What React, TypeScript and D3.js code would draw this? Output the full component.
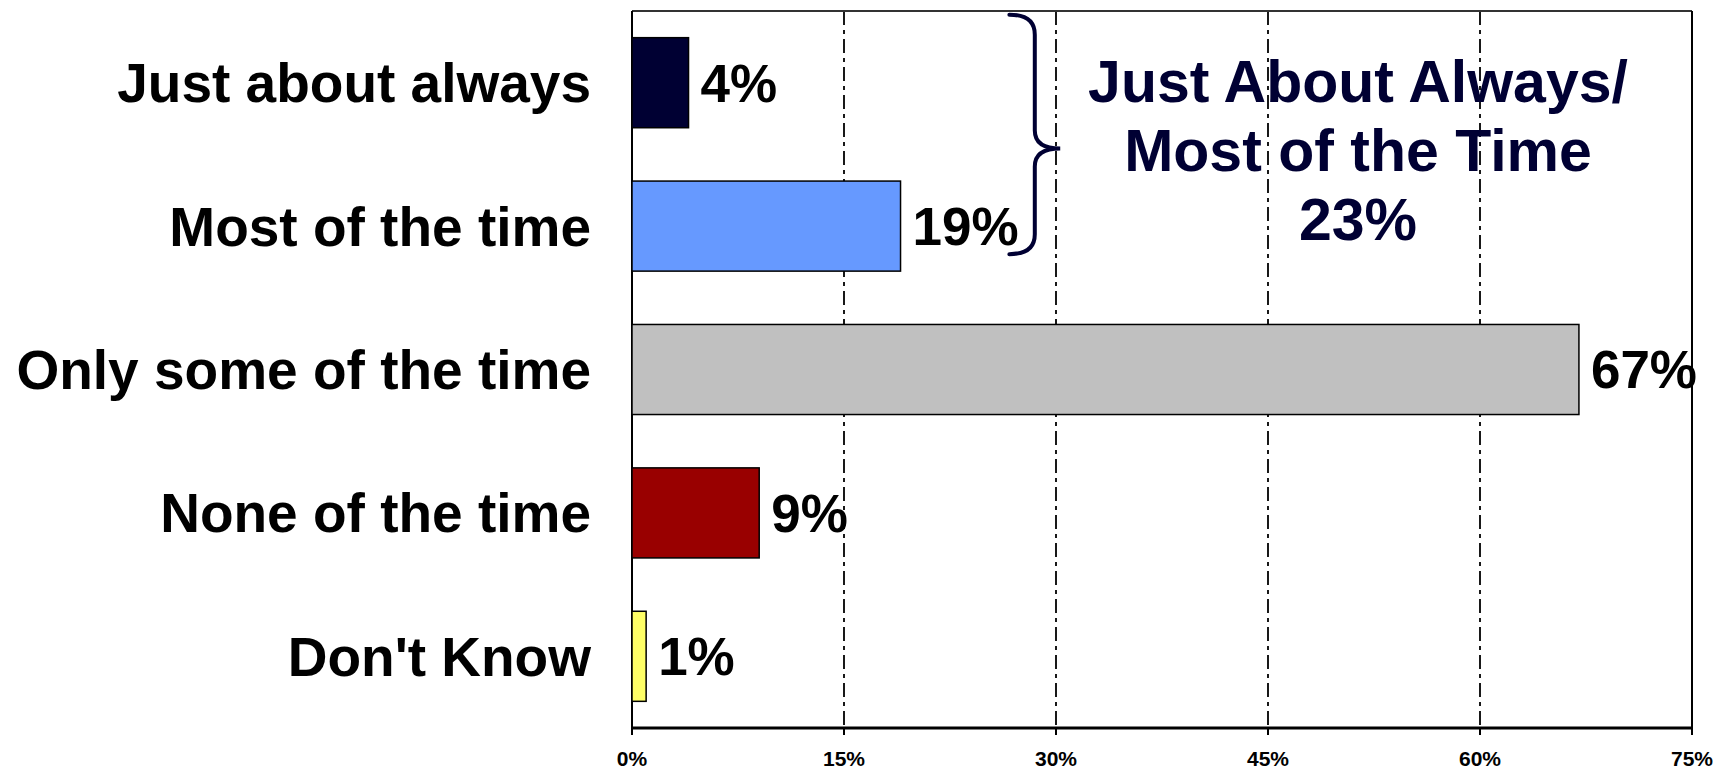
import React from "react";
import * as d3 from "d3";

const categories = ["Just about always", "Most of the time", "Only some of the time", "None of the time", "Don't Know"];
const values = [4, 19, 67, 9, 1];
const barColors = ["#000033", "#6699FF", "#C0C0C0", "#990000", "#FFFF66"];
const tickValues = [0, 15, 30, 45, 60, 75];
const tickLabels = ["0%", "15%", "30%", "45%", "60%", "75%"];
const annotationLines = ["Just About Always/", "Most of the Time", "23%"];

const W = 1715;
const H = 769;
const left = 632;
const right = 1692;
const top = 11;
const bottom = 728;
const FONT = "'Liberation Sans', Arial, Helvetica, sans-serif";

export default function App() {
  const x = d3.scaleLinear().domain([0, 75]).range([left, right]);
  const y = d3
    .scaleBand<string>()
    .domain(categories)
    .range([top, bottom])
    .paddingInner(0.372)
    .paddingOuter(0.186);
  const bw = y.bandwidth();

  const catFont = 55;
  const valFont = 53;

  // brace spanning the first two categories
  const bTop = (y(categories[0]) as number) - 23;
  const bBot = (y(categories[1]) as number) + bw - 17;
  const bMid = (bTop + bBot) / 2 + 14;
  const bx0 = x(26.7);
  const bxs = x(28.5);
  const bxt = x(30.3);
  const bracePath = [
    `M${bx0},${bTop}`,
    `Q${bxs},${bTop} ${bxs},${bTop + 20}`,
    `L${bxs},${bMid - 18}`,
    `Q${bxs},${bMid} ${bxt},${bMid}`,
    `Q${bxs},${bMid} ${bxs},${bMid + 18}`,
    `L${bxs},${bBot - 20}`,
    `Q${bxs},${bBot} ${bx0},${bBot}`,
  ].join(" ");

  return (
    <svg
      width={W}
      height={H}
      style={{ position: "absolute", left: 0, top: 0, background: "#fff" }}
      fontFamily={FONT}
    >
      <rect x={0} y={0} width={W} height={H} fill="#fff" />
      {/* gridlines */}
      {tickValues.slice(1, -1).map((t) => (
        <line
          key={"g" + t}
          x1={x(t)}
          x2={x(t)}
          y1={top}
          y2={bottom}
          stroke="#000"
          strokeWidth={1.8}
          strokeDasharray="14,5,4,5"
        />
      ))}
      {/* frame */}
      <line x1={left} x2={right} y1={top} y2={top} stroke="#333" strokeWidth={2} />
      <line x1={right} x2={right} y1={top} y2={bottom} stroke="#000" strokeWidth={2} />
      <line x1={left} x2={left} y1={top} y2={bottom + 7} stroke="#000" strokeWidth={2} />
      <line x1={left - 1} x2={right + 1} y1={bottom} y2={bottom} stroke="#000" strokeWidth={3} />
      {tickValues.map((t, i) => (
        <g key={"t" + t}>
          <line x1={x(t)} x2={x(t)} y1={bottom} y2={bottom + 7} stroke="#000" strokeWidth={2} />
          <text
            x={x(t)}
            y={766}
            textAnchor="middle"
            fontSize={21}
            fontWeight="bold"
            fill="#000"
          >
            {tickLabels[i]}
          </text>
        </g>
      ))}
      {/* bars */}
      {categories.map((c, i) => {
        const y0 = y(c) as number;
        const cy = y0 + bw / 2;
        return (
          <g key={c}>
            <rect
              x={x(0)}
              y={y0}
              width={x(values[i]) - x(0)}
              height={bw}
              fill={barColors[i]}
              stroke="#000"
              strokeWidth={1.5}
            />
            <text
              x={x(values[i]) + 12}
              y={cy + valFont * 0.355}
              fontSize={valFont}
              fontWeight="bold"
              fill="#000"
            >
              {values[i] + "%"}
            </text>
            <text
              x={591}
              y={cy + catFont * 0.355}
              textAnchor="end"
              fontSize={catFont}
              fontWeight="bold"
              fill="#000"
            >
              {c}
            </text>
          </g>
        );
      })}
      {/* brace */}
      <path d={bracePath} fill="none" stroke="#000033" strokeWidth={4} strokeLinecap="round" />
      {/* annotation */}
      {annotationLines.map((l, i) => (
        <text
          key={l}
          x={1358}
          y={102 + i * 69}
          textAnchor="middle"
          fontSize={59}
          fontWeight="bold"
          fill="#000033"
        >
          {l}
        </text>
      ))}
    </svg>
  );
}
